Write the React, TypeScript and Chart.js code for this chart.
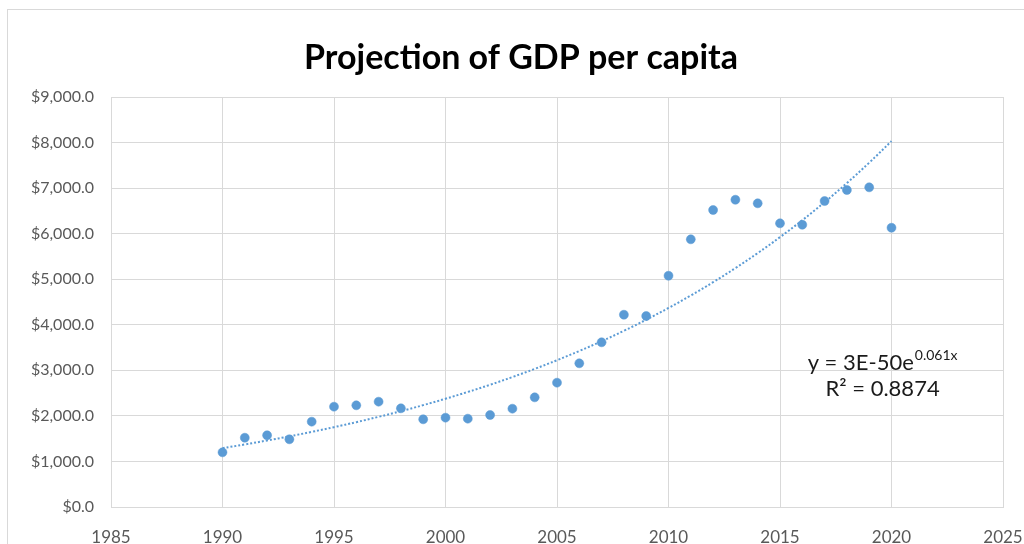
import React, { useEffect, useRef } from "react";
import { Chart, registerables } from "chart.js";

Chart.register(...registerables);

// ---- Data ----
const years = [
  1990, 1991, 1992, 1993, 1994, 1995, 1996, 1997, 1998, 1999, 2000,
  2001, 2002, 2003, 2004, 2005, 2006, 2007, 2008, 2009, 2010,
  2011, 2012, 2013, 2014, 2015, 2016, 2017, 2018, 2019, 2020,
];
const gdpPerCapita = [
  1200, 1521, 1574, 1486, 1873, 2202, 2232, 2312, 2166, 1925, 1961,
  1939, 2019, 2158, 2407, 2729, 3154, 3615, 4221, 4192, 5077,
  5876, 6519, 6745, 6666, 6227, 6196, 6716, 6958, 7017, 6130,
];
const chartTitle = "Projection of GDP per capita";
const equationMain = "y = 3E-50e";
const equationSup = "0.061x";
const rSquaredText = "R² = 0.8874";
const xMin = 1985;
const xMax = 2025;
const xStep = 5;
const yMin = 0;
const yMax = 9000;
const yStep = 1000;

// Exponential trendline (least squares on ln y, as the spreadsheet does), derived from the data
function exponentialFit(xs: number[], ys: number[]) {
  const n = xs.length;
  const mx = xs.reduce((a, b) => a + b, 0) / n;
  const ly = ys.map((v) => Math.log(v));
  const my = ly.reduce((a, b) => a + b, 0) / n;
  let sxy = 0;
  let sxx = 0;
  for (let i = 0; i < n; i++) {
    sxy += (xs[i] - mx) * (ly[i] - my);
    sxx += (xs[i] - mx) * (xs[i] - mx);
  }
  const b = sxy / sxx;
  return xs.map((x) => ({ x, y: Math.exp(my + b * (x - mx)) }));
}

const BLUE = "#5B9BD5";
const FONT = "Lato, 'Noto Sans', sans-serif";

const titlePlugin = {
  id: "customTitle",
  afterDraw(chart: any) {
    const { ctx } = chart;
    ctx.save();
    ctx.fillStyle = "#000000";
    ctx.font = `bold 34px ${FONT}`;
    ctx.textAlign = "center";
    ctx.textBaseline = "middle";
    ctx.fillText(chartTitle, 513, 48);
    ctx.restore();
  },
};

const equationPlugin = {
  id: "equationLabel",
  afterDatasetsDraw(chart: any) {
    const { ctx, scales } = chart;
    const cx = scales.x.getPixelForValue(2019.6);
    const y1 = scales.y.getPixelForValue(3160);
    const y2 = scales.y.getPixelForValue(2590);
    ctx.save();
    ctx.fillStyle = "#1a1a1a";
    ctx.textBaseline = "middle";
    const mainFont = `22px ${FONT}`;
    const supFont = `14px ${FONT}`;
    ctx.font = mainFont;
    const wMain = ctx.measureText(equationMain).width;
    ctx.font = supFont;
    const wSup = ctx.measureText(equationSup).width;
    const total = wMain + wSup + 1;
    const x0 = cx - total / 2;
    ctx.textAlign = "left";
    ctx.font = mainFont;
    ctx.fillText(equationMain, x0, y1);
    ctx.font = supFont;
    ctx.fillText(equationSup, x0 + wMain + 1, y1 - 8);
    ctx.font = mainFont;
    ctx.textAlign = "center";
    ctx.fillText(rSquaredText, cx, y2);
    ctx.restore();
  },
};

export default function App() {
  const canvasRef = useRef<HTMLCanvasElement | null>(null);

  useEffect(() => {
    if (!canvasRef.current) return;
    const points = years.map((x, i) => ({ x, y: gdpPerCapita[i] }));
    const trend = exponentialFit(years, gdpPerCapita);
    const chart = new Chart(canvasRef.current, {
      type: "scatter",
      data: {
        datasets: [
          {
            type: "line",
            label: "Trend",
            data: trend,
            borderColor: BLUE,
            borderWidth: 2,
            borderDash: [2, 2],
            pointRadius: 0,
            fill: false,
            tension: 0.4,
            order: 2,
          } as any,
          {
            label: "GDP per capita",
            data: points,
            backgroundColor: BLUE,
            borderColor: BLUE,
            pointRadius: 4.5,
            pointBorderWidth: 0.5,
            order: 1,
          },
        ],
      },
      options: {
        responsive: false,
        animation: false,
        layout: { padding: { left: 0, right: 37, top: 87, bottom: 0 } },
        plugins: {
          legend: { display: false },
          tooltip: { enabled: false },
          title: { display: false },
        },
        scales: {
          x: {
            type: "linear",
            min: xMin,
            max: xMax,
            ticks: {
              stepSize: xStep,
              color: "#595959",
              font: { family: FONT, size: 17 },
              padding: 20,
              callback: (v: any) => String(v),
            },
            grid: { color: "#d9d9d9", lineWidth: 1, drawTicks: false },
            border: { color: "#d9d9d9" },
            afterFit: (s: any) => {
              s.height = 47;
              s.paddingLeft = 0;
              s.paddingRight = 0;
            },
          },
          y: {
            min: yMin,
            max: yMax,
            ticks: {
              stepSize: yStep,
              color: "#595959",
              font: { family: FONT, size: 16 },
              padding: 17,
              callback: (v: any) =>
                "$" +
                Number(v).toLocaleString("en-US", {
                  minimumFractionDigits: 1,
                  maximumFractionDigits: 1,
                }),
            },
            grid: { color: "#d9d9d9", lineWidth: 1, drawTicks: false },
            border: { color: "#d9d9d9" },
            afterFit: (s: any) => {
              s.width = 103;
              s.paddingTop = 0;
              s.paddingBottom = 0;
            },
          },
        },
      },
      plugins: [equationPlugin, titlePlugin],
    });
    return () => chart.destroy();
  }, []);

  return (
    <div
      style={{
        position: "fixed",
        inset: 0,
        overflow: "hidden",
        background: "#ffffff",
      }}
    >
      <div
        style={{
          position: "absolute",
          left: 7,
          top: 9,
          width: 1040,
          height: 560,
          border: "1px solid #d9d9d9",
          boxSizing: "border-box",
        }}
      >
        <canvas
          ref={canvasRef}
          width={1032}
          height={544}
          style={{ position: "absolute", left: 0, top: 0, width: 1032, height: 544 }}
        />
      </div>
    </div>
  );
}
